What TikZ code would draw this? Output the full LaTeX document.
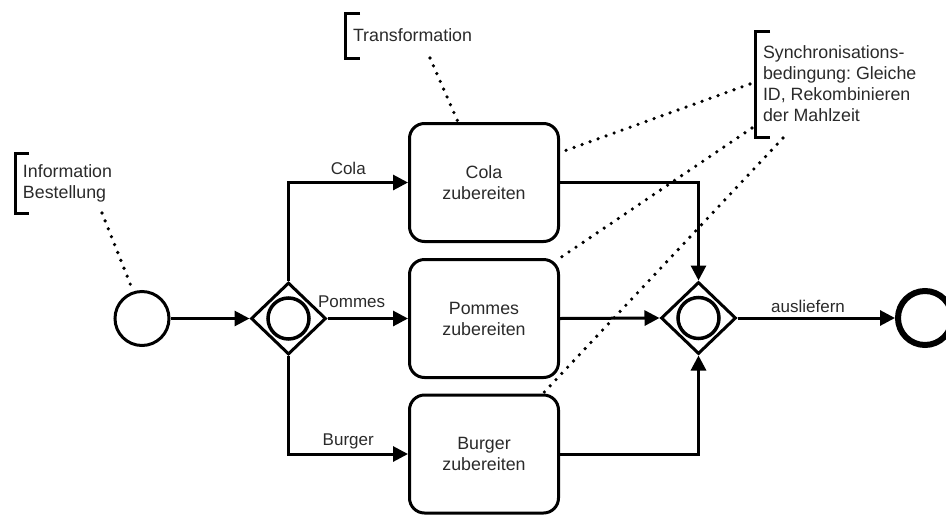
\documentclass[tikz,border=0pt]{standalone}
\usepackage{fontspec}
\setmainfont{Liberation Sans}
\usetikzlibrary{shapes.geometric,arrows.meta}
\definecolor{txt}{HTML}{2A2A2A}
\frenchspacing
\begin{document}
\begin{tikzpicture}[x=1pt,y=-1pt,
  every node/.style={font=\fontsize{17.8}{21}\selectfont, text=txt},
  flow/.style={line width=3pt, -{Triangle[length=15pt,width=15pt]}},
  task/.style={draw, line width=3pt, rounded corners=15pt, minimum width=149pt, minimum height=118pt, align=center, inner sep=0pt},
  gate/.style={draw, diamond, line width=3pt, minimum width=75pt, minimum height=72pt, inner sep=0pt},
  gatering/.style={draw, circle, line width=3.5pt, minimum size=41pt, inner sep=0pt},
  startev/.style={draw, circle, line width=3pt, minimum size=54pt, inner sep=0pt},
  endev/.style={draw, circle, line width=6pt, minimum size=54pt, inner sep=0pt},
  annot/.style={anchor=west, align=left, inner xsep=8pt, inner ysep=0pt, outer sep=0pt},
  bracket/.style={line width=3pt},
  assoc/.style={line width=3.6pt, line cap=round, dash pattern=on 0pt off 8.5pt},
  lbl/.style={anchor=base, inner sep=0pt, font=\fontsize{17}{20}\selectfont},
]
\useasboundingbox (0,0) rectangle (946,515);

% events and gateways
\node[startev] (start) at (142,318.5) {};
\node[gate] (g1) at (288.5,318.5) {};
\node[gatering] (g1r) at (g1) {};
\node[gate] (g2) at (698.5,318) {};
\node[gatering] (g2r) at (g2) {};
\node[endev] (end) at (925,318) {};

% tasks
\node[task] (cola) at (484,182.5) {Cola\\zubereiten};
\node[task] (pommes) at (484,318.5) {Pommes\\zubereiten};
\node[task] (burger) at (484,454) {Burger\\zubereiten};

% annotations
\node[annot, minimum height=60pt] (info) at (15,183) {Information\\Bestellung};
\node[annot, minimum height=45pt] (trans) at (345,35.5) {Transformation};
\node[annot, minimum height=106pt] (sync) at (755,84) {Synchronisations-\\bedingung: Gleiche\\ID, Rekombinieren\\der Mahlzeit};

\draw[bracket] ([xshift=14pt]info.north west) -- (info.north west) -- (info.south west) -- ([xshift=14pt]info.south west);
\draw[bracket] ([xshift=15pt]trans.north west) -- (trans.north west) -- (trans.south west) -- ([xshift=15pt]trans.south west);
\draw[bracket] ([xshift=15pt]sync.north west) -- (sync.north west) -- (sync.south west) -- ([xshift=15pt]sync.south west);

% sequence flows
\draw[flow] (start.east) -- (g1.west);
\draw[flow] (g1.north) |- node[lbl, pos=0.75, yshift=8pt]{Cola} (cola.west);
\draw[flow] (g1.east) -- node[lbl, pos=0.30, yshift=11.5pt]{Pommes} (pommes.west);
\draw[flow] (g1.south) |- node[lbl, pos=0.75, yshift=9pt]{Burger} (burger.west);
\draw[flow] (cola.east) -| (g2.north);
\draw[flow] (pommes.east) -- (g2.west);
\draw[flow] (burger.east) -| (g2.south);
\draw[flow] (g2.east) -- node[lbl, pos=0.448, yshift=6pt]{ausliefern} (end.west);

% associations
\draw[assoc] ([xshift=87pt]info.south west) -- (start.108);
\draw[assoc] ([xshift=85pt]trans.south west) -- ([xshift=-26pt]cola.north);
\draw[assoc] ([xshift=-5pt]sync.west) -- ([yshift=30pt]cola.east);
\draw[assoc] ([xshift=-3pt,yshift=9pt]sync.south west) -- (pommes.north east);
\draw[assoc] ([xshift=28pt,yshift=-1pt]sync.south west) -- ([xshift=59pt]burger.north);
\end{tikzpicture}
\end{document}
